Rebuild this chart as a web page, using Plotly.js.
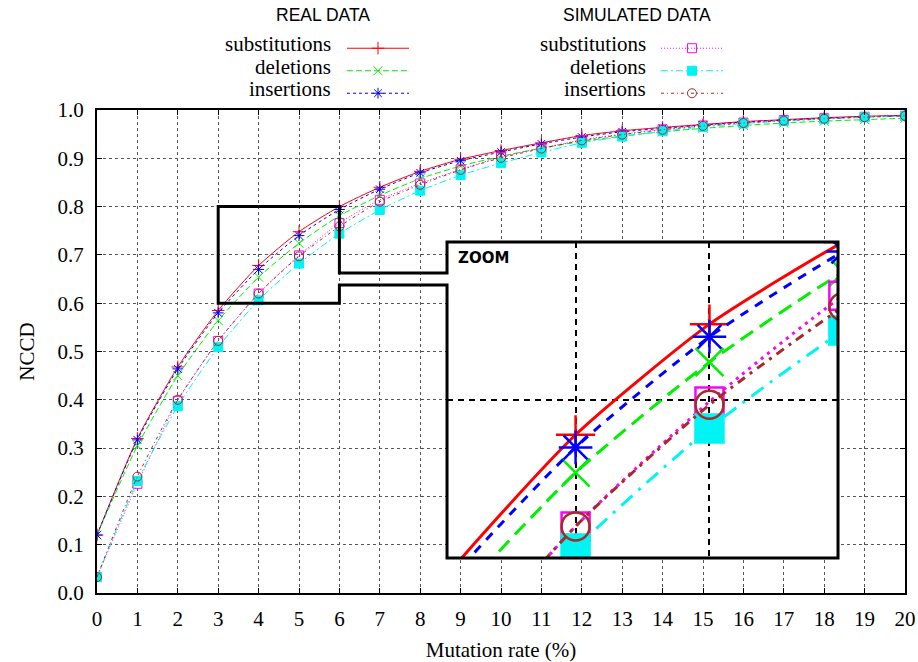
<!DOCTYPE html>
<html>
<head>
<meta charset="utf-8">
<script src="https://cdn.plot.ly/plotly-3.0.1.min.js"></script>
<style>
html,body{margin:0;padding:0;background:#fff;}
#chart{width:918px;height:662px;}
</style>
</head>
<body>
<div id="chart"></div>
<script>
// ---- data ----
const mutationRate = [0,1,2,3,4,5,6,7,8,9,10,11,12,13,14,15,16,17,18,19,20];
const xTickLabels = ['0','1','2','3','4','5','6','7','8','9','10','11','12','13','14','15','16','17','18','19','20'];
const yTickValues = [0,0.1,0.2,0.3,0.4,0.5,0.6,0.7,0.8,0.9,1.0];
const yTickLabels = ['0.0','0.1','0.2','0.3','0.4','0.5','0.6','0.7','0.8','0.9','1.0'];

const realSubstitutions = [0.120,0.320,0.468,0.585,0.678,0.748,0.800,0.840,0.873,0.898,0.916,0.932,0.947,0.957,0.964,0.970,0.976,0.980,0.984,0.987,0.989];
const realDeletions     = [0.120,0.305,0.450,0.564,0.654,0.724,0.781,0.823,0.858,0.884,0.904,0.921,0.935,0.946,0.955,0.962,0.968,0.973,0.977,0.980,0.983];
const realInsertions    = [0.120,0.317,0.464,0.580,0.670,0.740,0.794,0.836,0.870,0.895,0.913,0.930,0.944,0.955,0.962,0.969,0.975,0.979,0.983,0.986,0.988];
const simSubstitutions  = [0.033,0.226,0.398,0.522,0.620,0.699,0.766,0.814,0.848,0.877,0.903,0.921,0.938,0.950,0.960,0.968,0.974,0.979,0.983,0.986,0.988];
const simDeletions      = [0.033,0.232,0.387,0.509,0.606,0.682,0.744,0.793,0.833,0.865,0.890,0.912,0.932,0.945,0.956,0.965,0.972,0.977,0.981,0.985,0.988];
const simInsertions     = [0.033,0.241,0.400,0.522,0.620,0.697,0.759,0.810,0.845,0.876,0.901,0.920,0.937,0.949,0.959,0.967,0.973,0.978,0.982,0.985,0.988];

const seriesNames = ['substitutions','deletions','insertions'];
const groupTitles = ['REAL DATA','SIMULATED DATA'];
const insetLabel = 'ZOOM';

// ---- styles ----
const styles = [
  {y: realSubstitutions, name: seriesNames[0], legend:'legend',  color:'#ff0000', symbol:'cross-thin-open', dash:'solid',            zdash:'solid'},
  {y: realDeletions,     name: seriesNames[1], legend:'legend',  color:'#00f000', symbol:'x-thin-open',     dash:'6px,3px',          zdash:'15px,8px'},
  {y: realInsertions,    name: seriesNames[2], legend:'legend',  color:'#0000ff', symbol:'asterisk-open',   dash:'3px,3px',          zdash:'9px,8px'},
  {y: simSubstitutions,  name: seriesNames[0], legend:'legend2', color:'#ff00ff', symbol:'square-open',     dash:'1px,2px',          zdash:'3px,5px'},
  {y: simDeletions,      name: seriesNames[1], legend:'legend2', color:'#00f4f4', symbol:'square',          dash:'7px,3px,2px,3px',  zdash:'15px,8px,3px,8px'},
  {y: simInsertions,     name: seriesNames[2], legend:'legend2', color:'#a52a2a', symbol:'circle-open',     dash:'3px,3px,1px,3px',  zdash:'9px,6px,3px,6px'}
];

const traces = [];
styles.forEach(s => {
  traces.push({
    type:'scatter', mode:'lines+markers', x: mutationRate, y: s.y, name: '\u00a0',
    legend: s.legend, xaxis:'x', yaxis:'y',
    line:{color:s.color, width:1, dash:s.dash, shape:'spline', smoothing:0.6},
    marker:{symbol:s.symbol, size:9, color:s.color, line:{color:s.color, width:1}}
  });
});
styles.forEach(s => {
  traces.push({
    type:'scatter', mode:'lines+markers', x: mutationRate, y: s.y, name: s.name,
    showlegend:false, xaxis:'x2', yaxis:'y2',
    line:{color:s.color, width:3, dash:s.zdash, shape:'spline', smoothing:0.6},
    marker:{symbol:s.symbol, size:28, color:s.color, line:{color:s.color, width:2.5}}
  });
});

// ---- zoom window geometry ----
const zoomX = [3, 6], zoomY = [0.6, 0.8];
const mainX = [0, 20];
const insetDomX = [0.4332, 0.9171], insetDomY = [0.0725, 0.7267];
const channelY = [0.6377, 0.6625];
const px = v => (v - mainX[0]) / (mainX[1] - mainX[0]);
const path = [
  'M', px(zoomX[0]), zoomY[1],
  'L', px(zoomX[1]), zoomY[1],
  'L', px(zoomX[1]), channelY[1],
  'L', insetDomX[0], channelY[1],
  'L', insetDomX[0], insetDomY[1],
  'L', insetDomX[1], insetDomY[1],
  'L', insetDomX[1], insetDomY[0],
  'L', insetDomX[0], insetDomY[0],
  'L', insetDomX[0], channelY[0],
  'L', px(zoomX[1]), channelY[0],
  'L', px(zoomX[1]), zoomY[0],
  'L', px(zoomX[0]), zoomY[0], 'Z'
].join(' ');

const serif = 'Liberation Serif, Times New Roman, serif';
const sans = 'Liberation Sans, Arial, sans-serif';

// ---- key (gnuplot style: label right-aligned, sample on the right) ----
const keyRowsY = [1.1366, 1.0896, 1.0441];
const keyTextRight = [0.2921, 0.6819];
const keyTitleX = [0.2797, 0.6683];
const keyTitleY = 1.1967;

const annotations = [];
groupTitles.forEach((t, g) => {
  annotations.push({xref:'paper', yref:'paper', x:keyTitleX[g], y:keyTitleY, xanchor:'center', yanchor:'middle',
    showarrow:false, text:t, font:{family:sans, size:17.5, color:'#000'}});
  seriesNames.forEach((n, i) => {
    annotations.push({xref:'paper', yref:'paper', x:keyTextRight[g], y:keyRowsY[i], xanchor:'right', yanchor:'middle',
      showarrow:false, text:n, font:{family:serif, size:21, color:'#000'}});
  });
});
annotations.push({
  xref:'paper', yref:'paper', x:insetDomX[0]+0.011, y:insetDomY[1]-0.034,
  xanchor:'left', yanchor:'middle', showarrow:false,
  text:'<b>' + insetLabel + '</b>', font:{family:'DejaVu Sans, sans-serif', size:15, color:'#000'}
});

const legendCommon = {
  xanchor:'left', yanchor:'top', bgcolor:'rgba(0,0,0,0)', borderwidth:0,
  font:{family:serif, size:15}, itemwidth:62, tracegroupgap:0, traceorder:'normal'
};

const layout = {
  width:918, height:662,
  margin:{l:97, r:13, t:110, b:69, pad:0},
  paper_bgcolor:'#ffffff', plot_bgcolor:'#ffffff',
  font:{family:serif, size:21, color:'#000'},
  showlegend:true,
  xaxis:{
    domain:[0,1], range:mainX, tickmode:'array', tickvals:mutationRate, ticktext:xTickLabels,
    showgrid:true, gridcolor:'#555', gridwidth:1, griddash:'dot', zeroline:false,
    showline:true, linecolor:'#000', linewidth:2, mirror:'allticks',
    ticks:'inside', ticklen:5, tickcolor:'#000', ticklabelstandoff:6,
    tickfont:{family:serif, size:21},
    title:{text:'Mutation rate (%)', font:{family:serif, size:21}, standoff:12}
  },
  yaxis:{
    domain:[0,1], range:[0,1], tickmode:'array', tickvals:yTickValues, ticktext:yTickLabels,
    showgrid:true, gridcolor:'#555', gridwidth:1, griddash:'dot', zeroline:false,
    showline:true, linecolor:'#000', linewidth:2, mirror:'allticks',
    ticks:'inside', ticklen:5, tickcolor:'#000', ticklabelstandoff:7,
    tickfont:{family:serif, size:21},
    title:{text:'NCCD', font:{family:serif, size:21}, standoff:17}
  },
  xaxis2:{
    domain:insetDomX, anchor:'y2', range:[3.04, 5.96], tickmode:'array', tickvals:[4,5],
    showticklabels:false, ticks:'', showgrid:true, gridcolor:'#000', gridwidth:2, griddash:'6px,5px',
    zeroline:false, showline:false
  },
  yaxis2:{
    domain:insetDomY, anchor:'x2', range:zoomY, tickmode:'array', tickvals:[0.7],
    showticklabels:false, ticks:'', showgrid:true, gridcolor:'#000', gridwidth:2, griddash:'6px,5px',
    zeroline:false, showline:false
  },
  legend: Object.assign({x:0.3032, y:1.1615}, legendCommon),
  legend2: Object.assign({x:0.6918, y:1.1615}, legendCommon),
  shapes:[{
    type:'path', xref:'paper', yref:'paper', path:path, layer:'above',
    line:{color:'#000', width:3}, fillcolor:'rgba(0,0,0,0)'
  }],
  annotations: annotations
};

Plotly.newPlot('chart', traces, layout, {displayModeBar:false, staticPlot:true});
</script>
</body>
</html>
